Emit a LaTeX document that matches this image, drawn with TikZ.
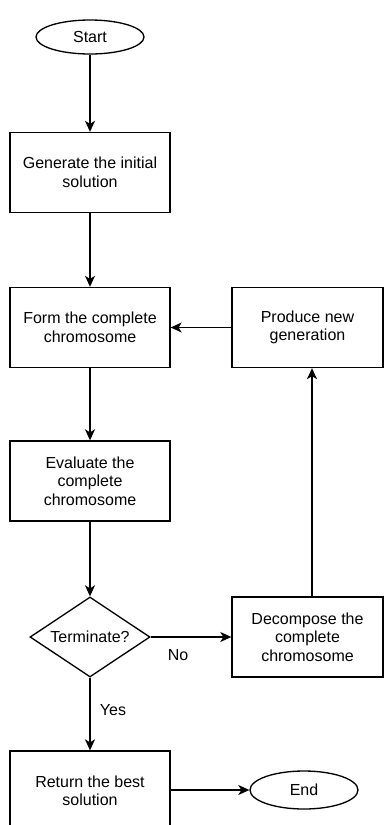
\documentclass[tikz,border=0pt]{standalone}
\usepackage{fontspec}
\setmainfont{Liberation Sans}
\usepackage{tikz}
\usetikzlibrary{shapes.geometric, arrows.meta}

\begin{document}
\begin{tikzpicture}[x=1pt, y=-1pt, line width=1.33pt,
  every node/.style={font=\fontsize{16}{18.5}\selectfont, align=center, inner sep=0pt},
  proc/.style={draw, rectangle, minimum width=160pt, minimum height=80pt},
  ends/.style={draw, ellipse, minimum width=108pt},
  decide/.style={draw, diamond, aspect=1.5, minimum width=120pt, minimum height=80pt},
  flow/.style={-{Stealth[length=11pt, width=10pt, inset=3pt]}}]
  \useasboundingbox (0,0) rectangle (384,825);
  \node[ends, minimum height=34pt] (start) at (90,37) {Start};
  \node[proc] (gen) at (90,172.5) {Generate the initial\\solution};
  \node[proc] (form) at (90,327.5) {Form the complete\\chromosome};
  \node[proc, minimum width=151pt] (prod) at (307.5,327.5) {Produce new\\generation};
  \node[proc] (eval) at (90,481) {Evaluate the\\complete\\chromosome};
  \node[decide] (term) at (90,637) {Terminate?};
  \node[proc, minimum width=151pt] (dec) at (307.5,637) {Decompose the\\complete\\chromosome};
  \node[proc] (ret) at (90,791) {Return the best\\solution};
  \node[ends, minimum height=38pt] (end) at (304,790) {End};
  \node (no) at (178,655) {No};
  \node (yes) at (113,710) {Yes};
  \draw[flow] (start) -- (gen);
  \draw[flow] (gen) -- (form);
  \draw[flow] (form) -- (eval);
  \draw[flow] (eval) -- (term);
  \draw[flow] (term) -- (ret);
  \draw[flow] (term.east) -- (dec.west);
  \draw[flow] ([xshift=4.5pt]dec.north) -- ([xshift=4.5pt]prod.south);
  \draw[flow] (prod.west) -- (form.east);
  \draw[flow] (ret.east |- end.west) -- (end.west);
\end{tikzpicture}
\end{document}
